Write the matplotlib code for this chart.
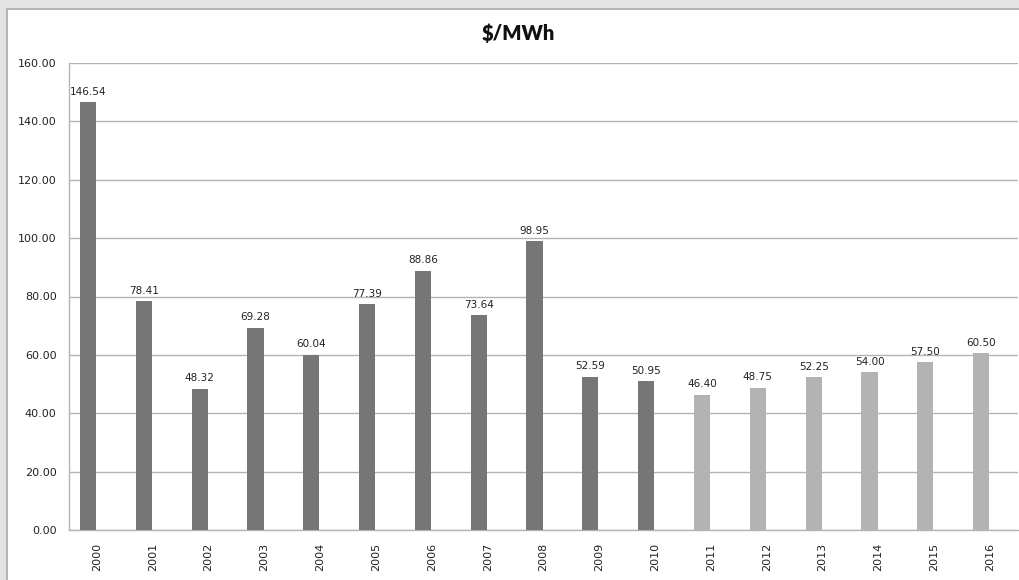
import matplotlib
matplotlib.use('Agg')
import matplotlib.pyplot as plt
from matplotlib.patches import Rectangle

# data
years = ['2000', '2001', '2002', '2003', '2004', '2005', '2006', '2007', '2008',
         '2009', '2010', '2011', '2012', '2013', '2014', '2015', '2016']
actual = [146.54, 78.41, 48.32, 69.28, 60.04, 77.39, 88.86, 73.64, 98.95,
          52.59, 50.95]
forecast = [46.40, 48.75, 52.25, 54.00, 57.50, 60.50]
yticks = [0, 20, 40, 60, 80, 100, 120, 140, 160]

DARK = '#767676'
LIGHT = '#b3b3b3'
GRID = '#b4b4b4'

W, H = 1019, 580
fig = plt.figure(figsize=(W / 100, H / 100), dpi=100, facecolor='#e3e3e3')

# white chart area with thin grey border (behind everything)
fig.patches.append(Rectangle((7 / W, -0.05), 1.1, (H - 9) / H + 0.05,
                             transform=fig.transFigure, facecolor='white',
                             edgecolor='#aaaaaa', linewidth=1.2, zorder=-10))

ax = fig.add_axes([69 / W, 50 / H, (1018 - 69) / W, (530 - 63) / H])
ax.set_zorder(1)
ax.set_facecolor('white')

values = actual + forecast
colors = [DARK] * len(actual) + [LIGHT] * len(forecast)
pos = [i - 0.16 for i in range(len(years))]
bars = ax.bar(pos, values, width=0.29, color=colors, zorder=3)

for b, v in zip(bars, values):
    ax.annotate(f'{v:.2f}', (b.get_x() + b.get_width() / 2, v),
                xytext=(0, 4), textcoords='offset points',
                ha='center', va='bottom', fontsize=7.5, color='#222222')

ax.set_xlim(-0.5, len(years) - 0.5)
ax.set_ylim(0, 160)
ax.set_yticks(yticks)
ax.set_yticklabels([f'{t:.2f}' for t in yticks])
ax.set_xticks(range(len(years)))
ax.set_xticklabels(years, rotation=90)
ax.tick_params(axis='both', length=0, labelsize=8, colors='#222222')
ax.tick_params(axis='y', pad=9)
ax.tick_params(axis='x', pad=9)

ax.yaxis.grid(True, color=GRID, linewidth=1.0, zorder=0)
ax.set_axisbelow(True)
for s in ['top', 'right']:
    ax.spines[s].set_visible(False)
for s in ['left', 'bottom']:
    ax.spines[s].set_color(GRID)
    ax.spines[s].set_linewidth(1.0)

fig.text(518 / W, 1 - 33 / H, '$/MWh', ha='center', va='center',
         fontsize=14.5, fontweight='heavy', family=['Lato', 'DejaVu Sans'],
         color='#111111')

fig.savefig('out.png', dpi=100, facecolor=fig.get_facecolor())
